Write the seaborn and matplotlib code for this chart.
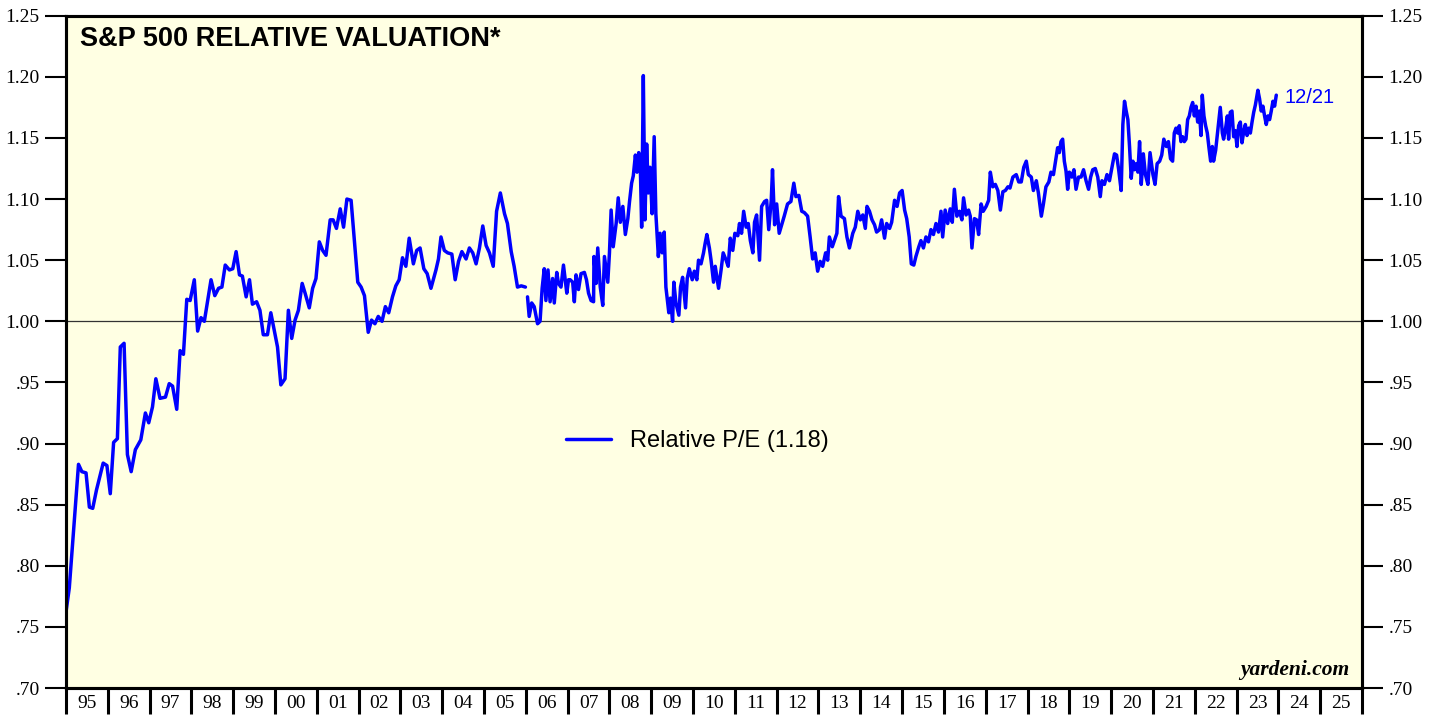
import numpy as np
import pandas as pd
import matplotlib
matplotlib.use("Agg")
import matplotlib.pyplot as plt
import seaborn as sns
from matplotlib.lines import Line2D

# monthly readings, 1995 to late 2005
early_years = [1995.00, 1995.08, 1995.20, 1995.30, 1995.38, 1995.48, 1995.56, 1995.64, 1995.73, 1995.89,
               1995.98, 1996.06, 1996.14, 1996.23, 1996.30, 1996.39, 1996.47, 1996.56, 1996.66, 1996.79,
               1996.90, 1996.98, 1997.07, 1997.15, 1997.25, 1997.38, 1997.47, 1997.55, 1997.65, 1997.73,
               1997.81, 1997.89, 1997.97, 1998.07, 1998.15, 1998.23, 1998.31, 1998.47, 1998.56, 1998.65,
               1998.73, 1998.81, 1998.91, 1998.99, 1999.07, 1999.15, 1999.22, 1999.31, 1999.39, 1999.46,
               1999.56, 1999.64, 1999.72, 1999.82, 1999.90, 1999.98, 2000.06, 2000.14, 2000.24, 2000.32,
               2000.40, 2000.48, 2000.56, 2000.65, 2000.72, 2000.82, 2000.90, 2000.98, 2001.06, 2001.14,
               2001.22, 2001.32, 2001.39, 2001.47, 2001.56, 2001.64, 2001.72, 2001.82, 2001.98, 2002.06,
               2002.14, 2002.23, 2002.31, 2002.39, 2002.47, 2002.56, 2002.64, 2002.72, 2002.81, 2002.89,
               2002.97, 2003.05, 2003.13, 2003.21, 2003.31, 2003.39, 2003.47, 2003.56, 2003.64, 2003.73,
               2003.85, 2003.91, 2003.97, 2004.05, 2004.13, 2004.23, 2004.31, 2004.39, 2004.47, 2004.57,
               2004.65, 2004.73, 2004.81, 2004.89, 2004.97, 2005.05, 2005.13, 2005.22, 2005.30, 2005.39,
               2005.49, 2005.56, 2005.65, 2005.72, 2005.80, 2005.89, 2005.99]
early_pe = [0.762, 0.782, 0.837, 0.883, 0.877, 0.876, 0.848, 0.847, 0.862, 0.884,
            0.882, 0.859, 0.901, 0.904, 0.979, 0.982, 0.891, 0.877, 0.895, 0.903,
            0.925, 0.917, 0.930, 0.953, 0.937, 0.938, 0.949, 0.947, 0.928, 0.976,
            0.973, 1.018, 1.017, 1.034, 0.992, 1.003, 1.000, 1.034, 1.021, 1.027,
            1.028, 1.046, 1.042, 1.043, 1.057, 1.038, 1.037, 1.020, 1.034, 1.014,
            1.016, 1.009, 0.989, 0.989, 1.007, 0.993, 0.979, 0.948, 0.953, 1.009,
            0.986, 1.001, 1.009, 1.031, 1.023, 1.011, 1.027, 1.035, 1.065, 1.058,
            1.054, 1.083, 1.083, 1.076, 1.092, 1.077, 1.100, 1.099, 1.032, 1.028,
            1.021, 0.991, 1.001, 0.998, 1.004, 1.000, 1.012, 1.007, 1.020, 1.029,
            1.034, 1.052, 1.045, 1.068, 1.047, 1.058, 1.060, 1.043, 1.039, 1.027,
            1.042, 1.051, 1.069, 1.058, 1.056, 1.055, 1.034, 1.049, 1.057, 1.051,
            1.060, 1.056, 1.047, 1.060, 1.078, 1.062, 1.056, 1.045, 1.090, 1.105,
            1.088, 1.080, 1.057, 1.045, 1.028, 1.029, 1.028]

# weekly readings, 2006 to 12/21/23 (sampled)
late_years = [2006.04, 2006.08, 2006.14, 2006.20, 2006.28, 2006.34, 2006.39, 2006.44, 2006.48, 2006.53,
              2006.58, 2006.64, 2006.68, 2006.74, 2006.78, 2006.84, 2006.90, 2006.98, 2007.02, 2007.06,
              2007.12, 2007.16, 2007.20, 2007.26, 2007.32, 2007.40, 2007.45, 2007.50, 2007.56, 2007.62,
              2007.63, 2007.68, 2007.72, 2007.78, 2007.84, 2007.88, 2007.96, 2008.00, 2008.04, 2008.09,
              2008.16, 2008.21, 2008.26, 2008.32, 2008.38, 2008.44, 2008.48, 2008.53, 2008.57, 2008.62,
              2008.66, 2008.70, 2008.74, 2008.77, 2008.81, 2008.85, 2008.89, 2008.93, 2008.97, 2009.02,
              2009.07, 2009.11, 2009.17, 2009.21, 2009.26, 2009.31, 2009.35, 2009.42, 2009.46, 2009.51,
              2009.54, 2009.59, 2009.66, 2009.70, 2009.75, 2009.82, 2009.86, 2009.91, 2009.98, 2010.03,
              2010.09, 2010.13, 2010.19, 2010.25, 2010.29, 2010.33, 2010.39, 2010.43, 2010.49, 2010.53,
              2010.61, 2010.67, 2010.72, 2010.79, 2010.84, 2010.89, 2010.95, 2011.00, 2011.07, 2011.11,
              2011.16, 2011.21, 2011.27, 2011.32, 2011.37, 2011.43, 2011.47, 2011.52, 2011.59, 2011.64,
              2011.71, 2011.76, 2011.81, 2011.87, 2011.90, 2011.95, 2012.00, 2012.06, 2012.13, 2012.18,
              2012.26, 2012.34, 2012.41, 2012.46, 2012.53, 2012.60, 2012.66, 2012.74, 2012.80, 2012.86,
              2012.92, 2012.98, 2013.04, 2013.10, 2013.17, 2013.22, 2013.26, 2013.33, 2013.38, 2013.44,
              2013.48, 2013.54, 2013.62, 2013.68, 2013.74, 2013.82, 2013.88, 2013.94, 2014.00, 2014.06,
              2014.12, 2014.16, 2014.22, 2014.28, 2014.34, 2014.39, 2014.46, 2014.51, 2014.58, 2014.63,
              2014.70, 2014.75, 2014.82, 2014.88, 2014.94, 2015.00, 2015.06, 2015.11, 2015.17, 2015.22,
              2015.28, 2015.33, 2015.40, 2015.45, 2015.51, 2015.57, 2015.63, 2015.69, 2015.75, 2015.81,
              2015.87, 2015.93, 2015.97, 2016.03, 2016.09, 2016.15, 2016.20, 2016.25, 2016.31, 2016.37,
              2016.43, 2016.47, 2016.53, 2016.59, 2016.63, 2016.67, 2016.73, 2016.78, 2016.83, 2016.89,
              2016.94, 2017.01, 2017.07, 2017.11, 2017.17, 2017.23, 2017.29, 2017.35, 2017.41, 2017.47,
              2017.53, 2017.58, 2017.65, 2017.73, 2017.79, 2017.85, 2017.91, 2017.97, 2018.02, 2018.09,
              2018.14, 2018.21, 2018.26, 2018.33, 2018.38, 2018.44, 2018.51, 2018.56, 2018.62, 2018.67,
              2018.72, 2018.76, 2018.80, 2018.84, 2018.88, 2018.92, 2018.96, 2019.00, 2019.06, 2019.11,
              2019.16, 2019.22, 2019.28, 2019.34, 2019.40, 2019.46, 2019.51, 2019.56, 2019.62, 2019.68,
              2019.74, 2019.78, 2019.84, 2019.90, 2019.96, 2020.01, 2020.08, 2020.13, 2020.18, 2020.24,
              2020.28, 2020.32, 2020.36, 2020.40, 2020.44, 2020.48, 2020.52, 2020.56, 2020.60, 2020.64,
              2020.68, 2020.72, 2020.77, 2020.82, 2020.88, 2020.93, 2021.00, 2021.05, 2021.10, 2021.16,
              2021.21, 2021.26, 2021.32, 2021.37, 2021.42, 2021.47, 2021.51, 2021.55, 2021.59, 2021.63,
              2021.67, 2021.71, 2021.75, 2021.79, 2021.83, 2021.87, 2021.91, 2021.95, 2021.99, 2022.03,
              2022.07, 2022.11, 2022.15, 2022.18, 2022.22, 2022.26, 2022.30, 2022.34, 2022.38, 2022.42,
              2022.45, 2022.50, 2022.55, 2022.61, 2022.66, 2022.69, 2022.73, 2022.78, 2022.81, 2022.85,
              2022.89, 2022.93, 2022.97, 2023.01, 2023.05, 2023.09, 2023.13, 2023.17, 2023.21, 2023.25,
              2023.29, 2023.33, 2023.37, 2023.41, 2023.45, 2023.51, 2023.55, 2023.59, 2023.63, 2023.67,
              2023.71, 2023.75, 2023.79, 2023.83, 2023.87, 2023.91, 2023.95]
late_pe = [1.020, 1.004, 1.015, 1.012, 0.998, 1.000, 1.027, 1.043, 1.017, 1.042,
           1.016, 1.035, 1.015, 1.040, 1.031, 1.028, 1.046, 1.023, 1.034, 1.034,
           1.032, 1.016, 1.038, 1.026, 1.039, 1.040, 1.034, 1.023, 1.017, 1.016,
           1.053, 1.031, 1.060, 1.028, 1.013, 1.053, 1.032, 1.056, 1.091, 1.061,
           1.080, 1.101, 1.081, 1.094, 1.071, 1.084, 1.098, 1.113, 1.119, 1.136,
           1.122, 1.138, 1.124, 1.077, 1.201, 1.083, 1.145, 1.105, 1.126, 1.088,
           1.151, 1.088, 1.053, 1.072, 1.056, 1.073, 1.028, 1.007, 1.019, 1.000,
           1.032, 1.015, 1.005, 1.028, 1.036, 1.011, 1.035, 1.043, 1.034, 1.041,
           1.034, 1.050, 1.047, 1.056, 1.064, 1.071, 1.060, 1.050, 1.032, 1.045,
           1.027, 1.042, 1.056, 1.050, 1.045, 1.068, 1.058, 1.072, 1.070, 1.080,
           1.072, 1.090, 1.077, 1.080, 1.066, 1.056, 1.081, 1.087, 1.050, 1.094,
           1.098, 1.099, 1.075, 1.099, 1.124, 1.079, 1.096, 1.072, 1.080, 1.086,
           1.096, 1.098, 1.113, 1.102, 1.103, 1.090, 1.089, 1.086, 1.069, 1.051,
           1.056, 1.041, 1.049, 1.045, 1.056, 1.050, 1.069, 1.061, 1.066, 1.072,
           1.102, 1.086, 1.084, 1.069, 1.060, 1.072, 1.077, 1.090, 1.083, 1.087,
           1.076, 1.094, 1.090, 1.083, 1.079, 1.073, 1.075, 1.083, 1.068, 1.080,
           1.076, 1.081, 1.099, 1.094, 1.105, 1.107, 1.091, 1.084, 1.069, 1.047,
           1.046, 1.053, 1.061, 1.066, 1.060, 1.069, 1.065, 1.075, 1.071, 1.080,
           1.073, 1.090, 1.069, 1.091, 1.080, 1.092, 1.081, 1.108, 1.086, 1.090,
           1.083, 1.101, 1.087, 1.091, 1.086, 1.060, 1.084, 1.083, 1.071, 1.096,
           1.090, 1.094, 1.099, 1.122, 1.110, 1.112, 1.107, 1.091, 1.106, 1.107,
           1.110, 1.109, 1.118, 1.120, 1.114, 1.114, 1.126, 1.131, 1.120, 1.118,
           1.107, 1.115, 1.105, 1.086, 1.096, 1.110, 1.114, 1.122, 1.120, 1.131,
           1.142, 1.138, 1.147, 1.149, 1.131, 1.123, 1.108, 1.122, 1.118, 1.124,
           1.108, 1.118, 1.118, 1.124, 1.115, 1.108, 1.118, 1.124, 1.125, 1.118,
           1.102, 1.115, 1.112, 1.120, 1.115, 1.124, 1.137, 1.136, 1.124, 1.107,
           1.161, 1.180, 1.172, 1.165, 1.143, 1.117, 1.131, 1.124, 1.129, 1.122,
           1.147, 1.112, 1.137, 1.120, 1.112, 1.138, 1.120, 1.112, 1.129, 1.131,
           1.136, 1.149, 1.143, 1.147, 1.133, 1.131, 1.154, 1.158, 1.154, 1.160,
           1.147, 1.151, 1.147, 1.149, 1.165, 1.168, 1.175, 1.179, 1.168, 1.176,
           1.163, 1.172, 1.152, 1.185, 1.168, 1.160, 1.154, 1.142, 1.131, 1.143,
           1.131, 1.140, 1.156, 1.175, 1.154, 1.149, 1.156, 1.168, 1.149, 1.171,
           1.172, 1.151, 1.156, 1.143, 1.160, 1.163, 1.146, 1.155, 1.161, 1.152,
           1.158, 1.154, 1.163, 1.171, 1.177, 1.189, 1.182, 1.172, 1.176, 1.168,
           1.161, 1.168, 1.165, 1.172, 1.180, 1.176, 1.185]

year_labels = ["95", "96", "97", "98", "99", "00", "01", "02", "03", "04", "05", "06", "07", "08", "09", "10",
               "11", "12", "13", "14", "15", "16", "17", "18", "19", "20", "21", "22", "23", "24", "25"]
y_ticks = [0.70, 0.75, 0.80, 0.85, 0.90, 0.95, 1.00, 1.05, 1.10, 1.15, 1.20, 1.25]
y_labels = [".70", ".75", ".80", ".85", ".90", ".95", "1.00", "1.05", "1.10", "1.15", "1.20", "1.25"]

df = pd.concat([
    pd.DataFrame({"year": early_years, "pe": early_pe, "seg": 0}),
    pd.DataFrame({"year": late_years, "pe": late_pe, "seg": 1}),
], ignore_index=True)

sns.set_style("white")
plt.rcParams["font.family"] = ["Liberation Sans", "DejaVu Sans"]
plt.rcParams["text.color"] = "black"
plt.rcParams["xtick.color"] = "black"
plt.rcParams["ytick.color"] = "black"
plt.rcParams["axes.edgecolor"] = "black"

line_color = "#0000FF"
bg = "#FFFFE3"

fig = plt.figure(figsize=(14.37, 7.17), dpi=100)
ax = fig.add_axes([0.0459, 0.0404, 0.9019, 0.9377])
ax.set_facecolor(bg)

ax.axhline(1.0, color="#333333", lw=0.9, zorder=1)
sns.lineplot(data=df, x="year", y="pe", units="seg", estimator=None, color=line_color,
             lw=2.5, ax=ax, legend=False, zorder=3)

ax.set_xlim(1995, 2026)
ax.set_ylim(0.70, 1.25)
ax.set_xlabel("")
ax.set_ylabel("")

for s in ax.spines.values():
    s.set_linewidth(2.2)
    s.set_color("black")

# x axis: year boundaries as ticks, labels centered in between
ax.set_xticks(np.arange(1995, 2027))
ax.set_xticklabels([])
ax.set_xticks(np.arange(1995.5, 2026), minor=True)
ax.set_xticklabels(year_labels, minor=True, fontfamily="Liberation Serif", fontsize=14)
ax.tick_params(axis="x", which="major", direction="out", length=19, width=2.2, bottom=True)
ax.tick_params(axis="x", which="minor", length=0, pad=5, bottom=True)

ax.set_yticks(y_ticks)
ax.set_yticklabels(y_labels, fontfamily="Liberation Serif", fontsize=14)
ax.tick_params(axis="y", direction="out", length=15, width=1.5, left=True, pad=4)

ax2 = ax.twinx()
ax2.set_ylim(ax.get_ylim())
ax2.set_yticks(y_ticks)
ax2.set_yticklabels(y_labels, fontfamily="Liberation Serif", fontsize=14)
ax2.tick_params(axis="y", direction="out", length=15, width=1.5, right=True, pad=4)
for s in ax2.spines.values():
    s.set_linewidth(2.2)
    s.set_color("black")

ax.text(0.011, 0.985, "S&P 500 RELATIVE VALUATION*", transform=ax.transAxes,
        fontsize=19.5, fontweight="bold", ha="left", va="top")
ax.text(2023.95 + 0.2, 1.183, "12/21", color=line_color, fontsize=14.5, ha="left", va="center")
ax.text(0.99, 0.012, "yardeni.com", transform=ax.transAxes, fontfamily="Liberation Serif",
        fontsize=15.5, fontweight="bold", fontstyle="italic", ha="right", va="bottom")

handle = Line2D([0], [0], color=line_color, lw=2.5)
ax.legend([handle], ["Relative P/E (1.18)"], loc="center", bbox_to_anchor=(0.487, 0.367),
          frameon=False, fontsize=17, handlelength=1.9, handletextpad=0.8)

fig.savefig("out.png", dpi=100, facecolor="white")
